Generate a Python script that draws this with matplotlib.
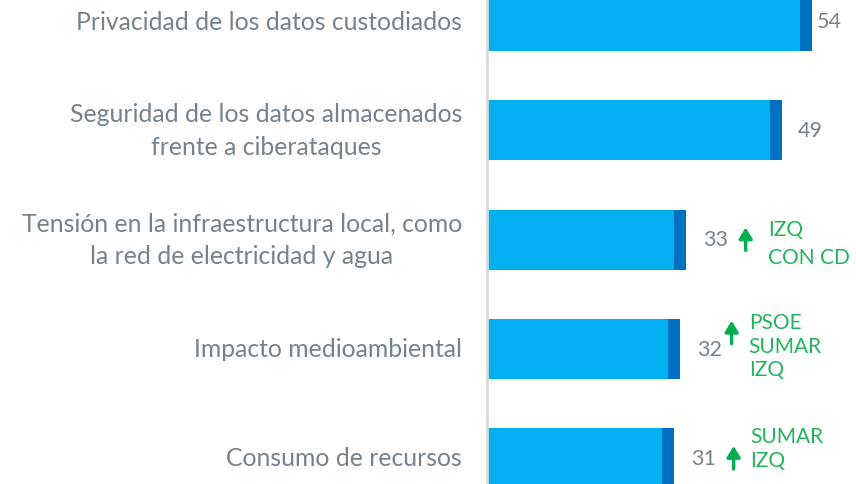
import matplotlib
matplotlib.use("Agg")
import matplotlib.pyplot as plt
from matplotlib.transforms import offset_copy

categories = [
    "Privacidad de los datos custodiados",
    "Seguridad de los datos almacenados\nfrente a ciberataques",
    "Tensión en la infraestructura local, como\nla red de electricidad y agua",
    "Impacto medioambiental",
    "Consumo de recursos",
]
totals = [54, 49, 33, 32, 31]
light_part = [52, 47, 31, 30, 29]
dark_part = [2, 2, 2, 2, 2]
annotations = ["", "", "IZQ\nCON CD", "PSOE\nSUMAR\nIZQ", "SUMAR\nIZQ"]

LIGHT = "#00B0F0"
DARK = "#0070C0"
GRAY_TXT = "#76828C"
GREEN = "#00B050"
GREEN_TXT = "#22B45C"

W, H = 856, 485
fig = plt.figure(figsize=(W / 100, H / 100), dpi=100)
ax_left = 487
ax = fig.add_axes([ax_left / W, 0, 1 - ax_left / W, 1])

px_per_unit = 6.02
ax.set_xlim(0, (W - ax_left) / px_per_unit)
step = 109.25
top_c = 22
ax.set_ylim((H - top_c) / step, -top_c / step)

ypos = list(range(len(categories)))
bh = 60 / step
ax.barh(ypos, light_part, height=bh, color=LIGHT, edgecolor="none")
ax.barh(ypos, dark_part, left=light_part, height=bh, color=DARK, edgecolor="none")

for sp in ["top", "right", "bottom"]:
    ax.spines[sp].set_visible(False)
ax.spines["left"].set_color("#D9D9D9")
ax.spines["left"].set_linewidth(2)
ax.set_xticks([])
ax.set_yticks([])

# category labels
for y, lab in zip(ypos, categories):
    ax.annotate(lab, xy=(0, y), xycoords="data", xytext=(-25, 0),
                textcoords="offset pixels", ha="right", va="center",
                multialignment="center", fontsize=17.8, color=GRAY_TXT,
                family="Lato", linespacing=1.52)

# value labels
gaps = [5, 16, 17, 17, 17]
for y, v, g in zip(ypos, totals, gaps):
    ax.annotate(str(v), xy=(v, y), xytext=(g, 0), textcoords="offset pixels",
                ha="left", va="center", fontsize=15.5, color=GRAY_TXT,
                family="Lato", annotation_clip=False)

# green arrows + party text
arrow_dx = {2: 60, 3: 52, 4: 60}
arrow_dy = {2: 0, 3: -16, 4: 0}
text_dx = {2: 82, 3: 69, 4: 77}
text_dy = {2: 3.5, 3: -3, 4: -10}
text_ls = {2: 1.5, 3: 1.22, 4: 1.2}
for i, (v, txt) in enumerate(zip(totals, annotations)):
    if not txt:
        continue
    x0 = arrow_dx[i]
    dy = arrow_dy[i]
    ax.annotate("", xy=(v, i),
                xycoords=offset_copy(ax.transData, fig=fig, x=x0, y=-dy + 12, units="dots"),
                xytext=(v, i),
                textcoords=offset_copy(ax.transData, fig=fig, x=x0, y=-dy - 11, units="dots"),
                annotation_clip=False,
                arrowprops=dict(arrowstyle="-|>,head_length=0.65,head_width=0.4",
                                color=GREEN, lw=2.4, shrinkA=0, shrinkB=0))
    ax.annotate(txt, xy=(v, i), xytext=(text_dx[i], -text_dy[i]),
                textcoords="offset pixels", ha="left", va="center",
                fontsize=15, color=GREEN_TXT, family="Lato",
                linespacing=text_ls[i], annotation_clip=False)

fig.savefig("out.png", dpi=100)
